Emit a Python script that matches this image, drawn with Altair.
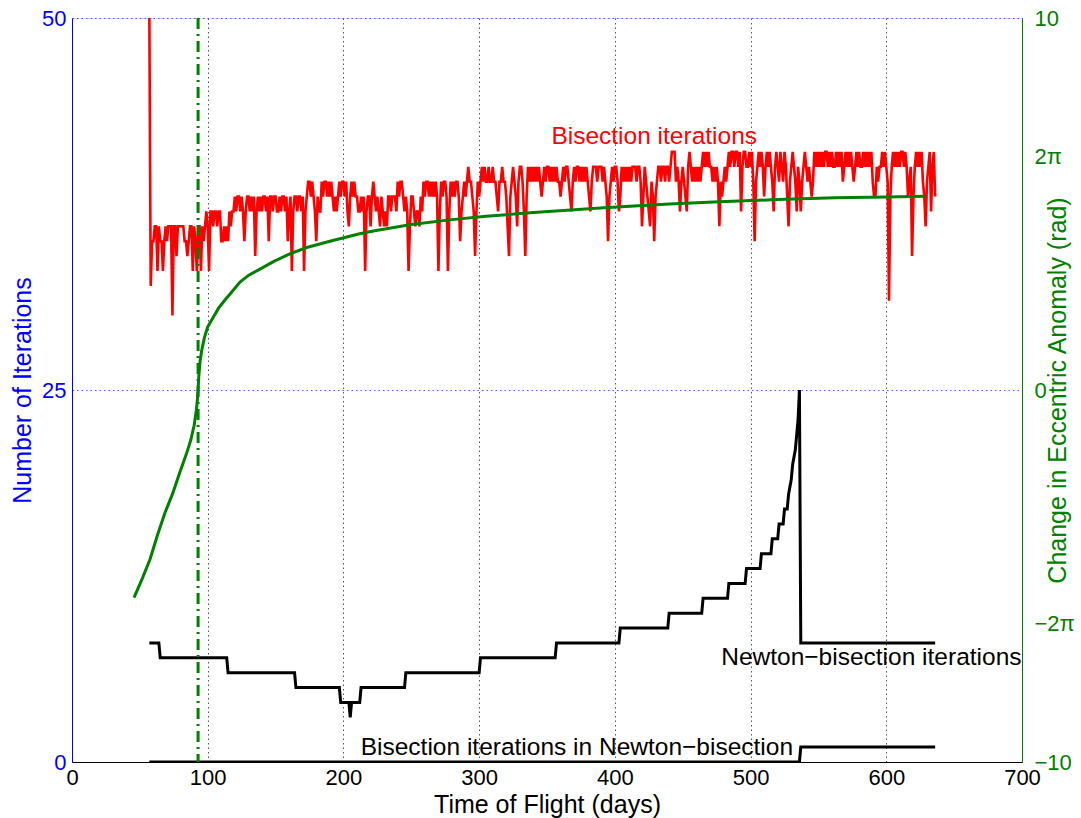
import math
import altair as alt
import pandas as pd

# ---------------- data ----------------
x_ticks = [0, 100, 200, 300, 400, 500, 600, 700]
left_ticks = [0, 25, 50]
right_ticks = [-10, -2 * math.pi, 0, 2 * math.pi, 10]

# Bisection iterations (red), daily values, in segments: start day -> values
red_segments = {
    57: [50, 32, 35, 35, 36, 36, 33, 36, 35, 35, 33, 35, 36, 35, 36, 36, 36, 30, 36, 36,
         34, 36, 36, 36, 36, 36, 35, 35, 34, 35, 36, 36, 33, 36, 35, 33, 36],
    94: [36, 33, 36, 35, 36, 37, 36, 33, 37, 37, 36, 37, 37, 36, 37, 37, 35, 35, 36, 35,
         36, 35, 37, 36, 37, 37, 38, 37, 38, 38, 37, 38, 37, 35, 37, 38, 38, 37, 38, 37,
         38, 34, 37],
    137: [38, 37, 38, 37, 38, 38, 37, 38, 35, 38, 38, 37, 38, 38, 37, 37, 38, 37, 38, 38,
          37, 38, 35, 37, 38, 33, 37, 38, 38, 37, 38, 38, 37, 38, 33, 37, 38, 39, 39, 38,
          39, 38, 37, 35, 38, 37, 37, 39, 38, 39, 39, 38, 39, 38, 39, 38, 37, 38, 37, 38,
          39, 38, 39, 39, 38, 39, 37, 36, 38, 39, 38, 39, 38, 38, 37, 37, 38, 37, 38, 33,
          37, 38, 38, 36, 38, 39, 38],
    224: [37, 38, 37, 36, 38, 37, 36, 37, 36, 38, 38, 37, 38, 38, 38, 37, 39, 38, 39, 39,
          38, 37, 38, 37, 33, 36, 38, 38, 37, 36, 37, 37, 36, 38, 37, 39, 38, 39, 39, 38,
          39, 38, 39, 38, 39, 38, 33, 37, 39, 38, 39, 39, 38, 33, 37, 39, 38, 39, 38, 39,
          39, 38, 35, 37, 38, 39, 38, 39, 40, 39, 39, 38, 37, 34, 37, 39, 38, 39, 40, 39,
          40, 39, 39, 40, 39],
    309: [39, 40, 39, 39, 38, 37, 39, 39, 40, 39, 39, 38, 36, 34, 38, 39, 40, 39, 38, 36,
          39, 40, 40, 39, 37, 34, 38, 40, 39, 40, 39, 40, 39, 40, 39, 40, 39, 38, 39, 40,
          39, 40, 40, 39, 40, 39, 40, 39, 40, 39, 39, 38, 39, 40, 39, 40, 40, 39, 38, 37,
          39, 40, 39, 40, 40, 39, 40, 39, 40, 39, 40, 39, 38, 37, 39, 40, 40, 40, 39, 40,
          40, 40, 39, 40],
    393: [39, 38, 35, 38, 39, 40, 39, 40, 40, 39, 37, 38, 40, 39, 40, 39, 40, 39, 40, 39,
          40, 40, 40, 39, 40, 40, 39, 36, 38, 40, 39, 38, 37, 36, 39, 38, 35, 38, 39, 40,
          40, 39, 40, 40, 39, 40, 40, 39, 40, 41, 41, 41, 39, 40, 39, 37, 39, 40, 39, 38,
          37, 40, 41, 40, 39, 40, 39, 40, 39, 40, 39, 40, 41, 40, 41, 40, 41, 40, 40, 39,
          40, 39, 40, 39, 36],
    478: [39, 38, 39, 40, 39, 40, 41, 40, 41, 41, 40, 41, 41, 40, 41, 37, 40, 41, 41, 40,
          40, 41, 40, 41, 39, 35, 39, 40, 41, 40, 41, 40, 38, 40, 41, 40, 41, 40, 39, 37,
          40, 41, 40, 39, 41, 40, 39, 41, 40, 38, 36, 39, 40, 41, 40, 39, 37, 40, 39, 37,
          39, 40, 41, 40, 39, 40, 39, 38, 39, 41, 40, 41, 40, 41, 40, 41, 40, 41, 41, 40,
          41, 40, 41, 40, 40],
    563: [41, 40, 41, 40, 41, 39, 40, 41, 40, 41, 40, 41, 40, 39, 40, 41, 40, 41, 40, 40,
          41, 40, 41, 40, 41, 40, 41, 39, 38, 38, 40, 39, 40, 40, 41, 40, 41, 40, 39, 31,
          38, 40, 41, 40, 41, 40, 41, 40, 41, 41, 40, 41, 40, 38, 39, 40, 34, 38, 40, 41,
          40, 41, 40, 41, 39, 38, 36, 39, 40, 41, 37, 40, 41, 38],
}

# Newton-bisection iterations (black): breakpoints (day, iterations)
nb_days = [57, 64, 65, 114, 115, 164, 165, 197, 198, 204, 205, 206, 212, 213, 245, 246,
           300, 301, 356, 357, 403, 404, 439, 440, 464, 465, 483, 484, 496, 497, 507, 508,
           515, 516, 520, 521, 524, 525, 527, 528, 530, 531, 533, 534, 535, 536, 537, 636]
nb_vals = [8, 8, 7, 7, 6, 6, 5, 5, 4, 4, 3, 4, 4, 5, 5, 6,
           6, 7, 7, 8, 8, 9, 9, 10, 10, 11, 11, 12, 12, 13, 13, 14,
           14, 15, 15, 16, 16, 17, 17, 18, 19, 20, 21, 22, 23, 25, 8, 8]

# Bisection iterations inside Newton-bisection (black, bottom)
bnb_days = [57, 536, 537, 636]
bnb_vals = [0, 0, 1, 1]

# Change in eccentric anomaly (green, right axis, rad)
ecc_days = [45.7, 52, 57.5, 63, 68.5, 74, 79.6, 84, 87.5, 90, 91.6, 92.4, 92.9, 93.4,
            94.3, 95.5, 97.5, 100, 104, 108, 112.7, 118, 123.8, 130, 138.5, 148.4, 160,
            173, 190, 212, 223, 250, 280, 305, 340, 392, 440, 477, 520, 562, 600, 628.6]
ecc_vals = [-5.58, -5.05, -4.55, -3.9, -3.3, -2.8, -2.2, -1.75, -1.35, -0.95, -0.55,
            -0.25, 0.0, 0.35, 0.75, 1.05, 1.4, 1.7, 1.95, 2.2, 2.42, 2.65, 2.9, 3.08,
            3.25, 3.45, 3.65, 3.83, 4.0, 4.2, 4.28, 4.45, 4.58, 4.67, 4.77, 4.9, 5.0,
            5.06, 5.12, 5.17, 5.19, 5.21]

switch_day = 92.9  # dash-dot marker

label_texts = ["Bisection iterations", "Newton\u2212bisection iterations",
               "Bisection iterations in Newton\u2212bisection"]
label_days = [429, 589, 372]
label_iters = [42.0, 7.0, 0.95]
label_colors = ["#FF0000", "#000000", "#000000"]

# ---------------- tables ----------------
red_rows = []
for start, vals in red_segments.items():
    for i, v in enumerate(vals):
        red_rows.append({"day": start + i, "iters": v})
red_df = pd.DataFrame(red_rows)

black_df = pd.concat([
    pd.DataFrame({"day": nb_days, "iters": nb_vals, "series": "nb"}),
    pd.DataFrame({"day": bnb_days, "iters": bnb_vals, "series": "bnb"}),
])
ecc_df = pd.DataFrame({"day": ecc_days, "ecc": ecc_vals})
lab_df = pd.DataFrame({"day": label_days, "iters": label_iters,
                       "text": label_texts, "color": label_colors})

FONT = "Liberation Sans"
BLUE = "#0000FF"
GREEN = "#008000"
W, H = 950, 744
TICK_FS = 22
TITLE_FS = 25
ANN_FS = 24.5

xscale = alt.Scale(domain=[0, 700], nice=False, zero=False)
ylscale = alt.Scale(domain=[0, 50], nice=False, zero=False)
yrscale = alt.Scale(domain=[-10, 10], nice=False, zero=False)

x_axis = alt.Axis(values=x_ticks, title="Time of Flight (days)", grid=True,
                  gridDash=[1.5, 3], gridColor="#555555", gridWidth=1,
                  domainColor="#000000", labelColor="#000000", titleColor="#000000",
                  ticks=False, labelPadding=5, labelFontSize=TICK_FS,
                  titleFontSize=TITLE_FS, titleFontWeight="normal", labelFlush=False,
                  titleX=W / 2, titleY=42, titleBaseline="middle")
yl_axis = alt.Axis(values=left_ticks, title="Number of Iterations", orient="left",
                   grid=True, gridDash=[1.5, 3], gridColor="#5555ff", gridWidth=1,
                   domainColor=BLUE, labelColor=BLUE, titleColor=BLUE, ticks=False,
                   labelPadding=6, labelFontSize=TICK_FS, titleFontSize=TITLE_FS,
                   titleFontWeight="normal", labelFlush=False,
                   titleX=-50, titleY=H / 2, titleAngle=270, titleBaseline="middle",
                   titleAlign="center")
yr_axis = alt.Axis(values=right_ticks, title="Change in Eccentric Anomaly (rad)",
                   orient="right", grid=False, domainColor=GREEN, labelColor=GREEN,
                   titleColor=GREEN, ticks=False, labelPadding=12, labelFontSize=TICK_FS,
                   titleFontSize=TITLE_FS, titleFontWeight="normal", labelFlush=False,
                   titleX=35, titleY=H / 2, titleAngle=270,
                   titleBaseline="middle", titleAlign="center",
                   labelExpr="abs(datum.value) < 0.1 ? '0' : datum.value > 9.9 ? '10' : "
                             "datum.value > 6 ? '2\u03c0' : datum.value > -7 ? "
                             "'\u22122\u03c0' : '\u221210'")

X = alt.X("day:Q", scale=xscale, axis=x_axis)

red = alt.Chart(red_df).mark_line(color="#FF0000", strokeWidth=2.6, clip=True).encode(
    x=X, y=alt.Y("iters:Q", scale=ylscale, axis=yl_axis))
black = alt.Chart(black_df).mark_line(color="#000000", strokeWidth=3, clip=True).encode(
    x=X, y=alt.Y("iters:Q", scale=ylscale, axis=yl_axis), detail="series:N")
labels = alt.Chart(lab_df).mark_text(font=FONT, fontSize=ANN_FS, align="center",
                                     baseline="middle").encode(
    x=X, y=alt.Y("iters:Q", scale=ylscale, axis=yl_axis),
    text="text:N", color=alt.Color("color:N", scale=None))

left = alt.layer(red, black, labels)

green = alt.Chart(ecc_df).mark_line(color=GREEN, strokeWidth=3, clip=True).encode(
    x=X, y=alt.Y("ecc:Q", scale=yrscale, axis=yr_axis))
vline = alt.Chart(pd.DataFrame({"day": [switch_day]})).mark_rule(
    color=GREEN, strokeWidth=3, strokeDash=[11, 5, 2, 5]).encode(x=X)

right = alt.layer(vline, green)

chart = alt.layer(left, right).resolve_scale(y="independent").properties(
    width=W, height=H,
    autosize=alt.AutoSizeParams(type="none"),
    padding={"left": 72, "top": 18, "right": 59, "bottom": 56},
).configure_axis(
    labelFont=FONT, titleFont=FONT, titleFontWeight="normal", domainWidth=1.5,
).configure_view(stroke=None).configure(background="white")

chart.save("out.html", embed_options={"renderer": "svg", "actions": False})
